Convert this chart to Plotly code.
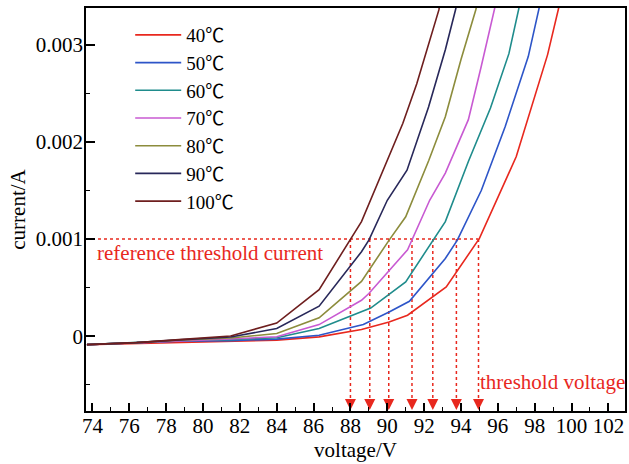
import plotly.graph_objects as go

labels = ["40℃", "50℃", "60℃", "70℃", "80℃", "90℃", "100℃"]
colors = ["#e8281e", "#2d55c8", "#1f8c8c", "#c85ad2", "#8c8c3c", "#28285a", "#6e1e1e"]

v40 = [73.7, 76.4, 78.7, 81.5, 84.0, 86.3, 88.0, 88.6, 90.1, 91.1, 93.2, 95.0, 97.0, 98.0, 98.7, 99.3, 99.6]
i40 = [-0.086, -0.075, -0.06, -0.052, -0.04, -0.007, 0.05, 0.07, 0.147, 0.216, 0.508, 1.007, 1.85, 2.46, 2.9, 3.38, 3.6]

v50 = [73.7, 76.4, 78.7, 81.5, 84.0, 86.3, 88.7, 90.1, 91.2, 93.15, 93.8, 95.1, 96.4, 97.65, 98.2, 98.5]
i50 = [-0.086, -0.07, -0.05, -0.045, -0.03, 0.01, 0.12, 0.25, 0.36, 0.80, 0.99, 1.5, 2.16, 2.88, 3.36, 3.6]

v60 = [73.7, 75.0, 78.7, 81.5, 84.0, 86.3, 88.6, 89.1, 91.0, 92.5, 93.15, 94.4, 95.6, 96.6, 97.1, 97.4]
i60 = [-0.086, -0.075, -0.045, -0.035, -0.015, 0.08, 0.25, 0.29, 0.56, 0.99, 1.18, 1.8, 2.35, 2.91, 3.36, 3.6]

v70 = [73.7, 76.4, 78.7, 81.5, 84.0, 86.3, 88.6, 89.0, 91.1, 92.3, 93.15, 94.4, 95.1, 95.85, 96.1]
i70 = [-0.086, -0.068, -0.045, -0.028, -0.005, 0.12, 0.37, 0.44, 0.89, 1.4, 1.68, 2.23, 2.78, 3.36, 3.6]

v80 = [73.7, 76.4, 78.7, 81.5, 84.0, 86.3, 88.6, 90.1, 91.0, 92.25, 93.15, 94.0, 94.8, 95.1]
i80 = [-0.086, -0.066, -0.04, -0.018, 0.028, 0.19, 0.565, 0.99, 1.23, 1.81, 2.26, 2.85, 3.36, 3.6]

v90 = [73.7, 76.4, 78.7, 81.5, 84.0, 86.3, 88.6, 89.0, 90.0, 91.07, 92.24, 93.15, 93.7, 94.0]
i90 = [-0.086, -0.066, -0.038, -0.008, 0.079, 0.31, 0.87, 0.99, 1.40, 1.71, 2.36, 2.95, 3.36, 3.6]

v100 = [73.7, 76.4, 78.7, 81.5, 84.0, 86.3, 88.6, 90.84, 91.6, 92.8, 93.0]
i100 = [-0.086, -0.066, -0.035, 0.003, 0.135, 0.48, 1.18, 2.19, 2.6, 3.36, 3.6]

voltages = [v40, v50, v60, v70, v80, v90, v100]
currents_mA = [i40, i50, i60, i70, i80, i90, i100]

ref_current = 0.001
threshold_v = [88.0, 89.05, 90.08, 91.34, 92.47, 93.75, 94.95]
arrow_y = -0.00076

x_range = [73.65, 102.9]
y_range = [-0.00077, 0.00338]
x_ticks = list(range(74, 103, 2))
y_tickvals = [0, 0.001, 0.002, 0.003]
y_ticktext = ["0", "0.001", "0.002", "0.003"]

font_family = "Liberation Serif, Times New Roman, serif"
legend_family = "Liberation Serif, Noto Sans CJK SC, serif"
ref_red = "#e8281e"
fs = 21

fig = go.Figure()

for v, c, lab, col in zip(voltages, currents_mA, labels, colors):
    fig.add_trace(go.Scatter(
        x=v, y=[val * 1e-3 for val in c], mode="lines", name=lab,
        line=dict(color=col, width=1.6), showlegend=True,
    ))

# reference lines
fig.add_shape(type="line", x0=x_range[0], x1=threshold_v[-1], y0=ref_current, y1=ref_current,
              line=dict(color=ref_red, width=1.5, dash="dot"), layer="below")
for tv in threshold_v:
    fig.add_shape(type="line", x0=tv, x1=tv, y0=ref_current, y1=arrow_y + 0.00008,
                  line=dict(color=ref_red, width=1.5, dash="dot"), layer="below")

fig.add_trace(go.Scatter(
    x=threshold_v, y=[arrow_y] * len(threshold_v), mode="markers",
    marker=dict(symbol="arrow-down", size=11, color=ref_red, line=dict(width=0)),
    showlegend=False, hoverinfo="skip",
))

fig.add_annotation(x=74.15, y=0.000855, text="reference threshold current", showarrow=False,
                   xanchor="left", yanchor="middle",
                   font=dict(family=font_family, size=fs, color=ref_red))
fig.add_annotation(x=98.95, y=-0.000474, text="threshold voltage", showarrow=False,
                   xanchor="center", yanchor="middle",
                   font=dict(family=font_family, size=fs, color=ref_red))

fig.update_layout(
    width=629, height=464,
    margin=dict(l=86, r=2, t=8, b=53),
    paper_bgcolor="white", plot_bgcolor="white",
    font=dict(family=font_family, size=fs, color="black"),
    legend=dict(x=0.082, y=0.98, xanchor="left", yanchor="top",
                bgcolor="rgba(0,0,0,0)", borderwidth=0,
                font=dict(family=legend_family, size=19), itemwidth=46,
                tracegroupgap=0),
    showlegend=True,
)
fig.update_xaxes(
    range=x_range, tickvals=x_ticks, ticks="inside", ticklen=8, tickwidth=1.5,
    tickcolor="black", showline=True, linecolor="black", linewidth=1.5, mirror=True,
    showgrid=False, zeroline=False, ticklabelstandoff=-5,
    minor=dict(dtick=1, tick0=74, ticks="inside", ticklen=4, tickwidth=1.2, tickcolor="black"),
    title=dict(text="voltage/V", standoff=4, font=dict(size=fs)),
    tickfont=dict(size=fs),
)
fig.update_yaxes(
    range=y_range, tickvals=y_tickvals, ticktext=y_ticktext, ticks="inside", ticklen=9,
    tickwidth=1.5, tickcolor="black", showline=True, linecolor="black", linewidth=1.5,
    mirror=True, showgrid=False, zeroline=False, ticklabelstandoff=-3,
    minor=dict(tickvals=[-0.0005, 0.0005, 0.0015, 0.0025], ticks="inside", ticklen=4,
               tickwidth=1.2, tickcolor="black"),
    title=dict(text="current/A", standoff=4, font=dict(size=fs)),
    tickfont=dict(size=fs),
)

fig.write_html("out.html")
